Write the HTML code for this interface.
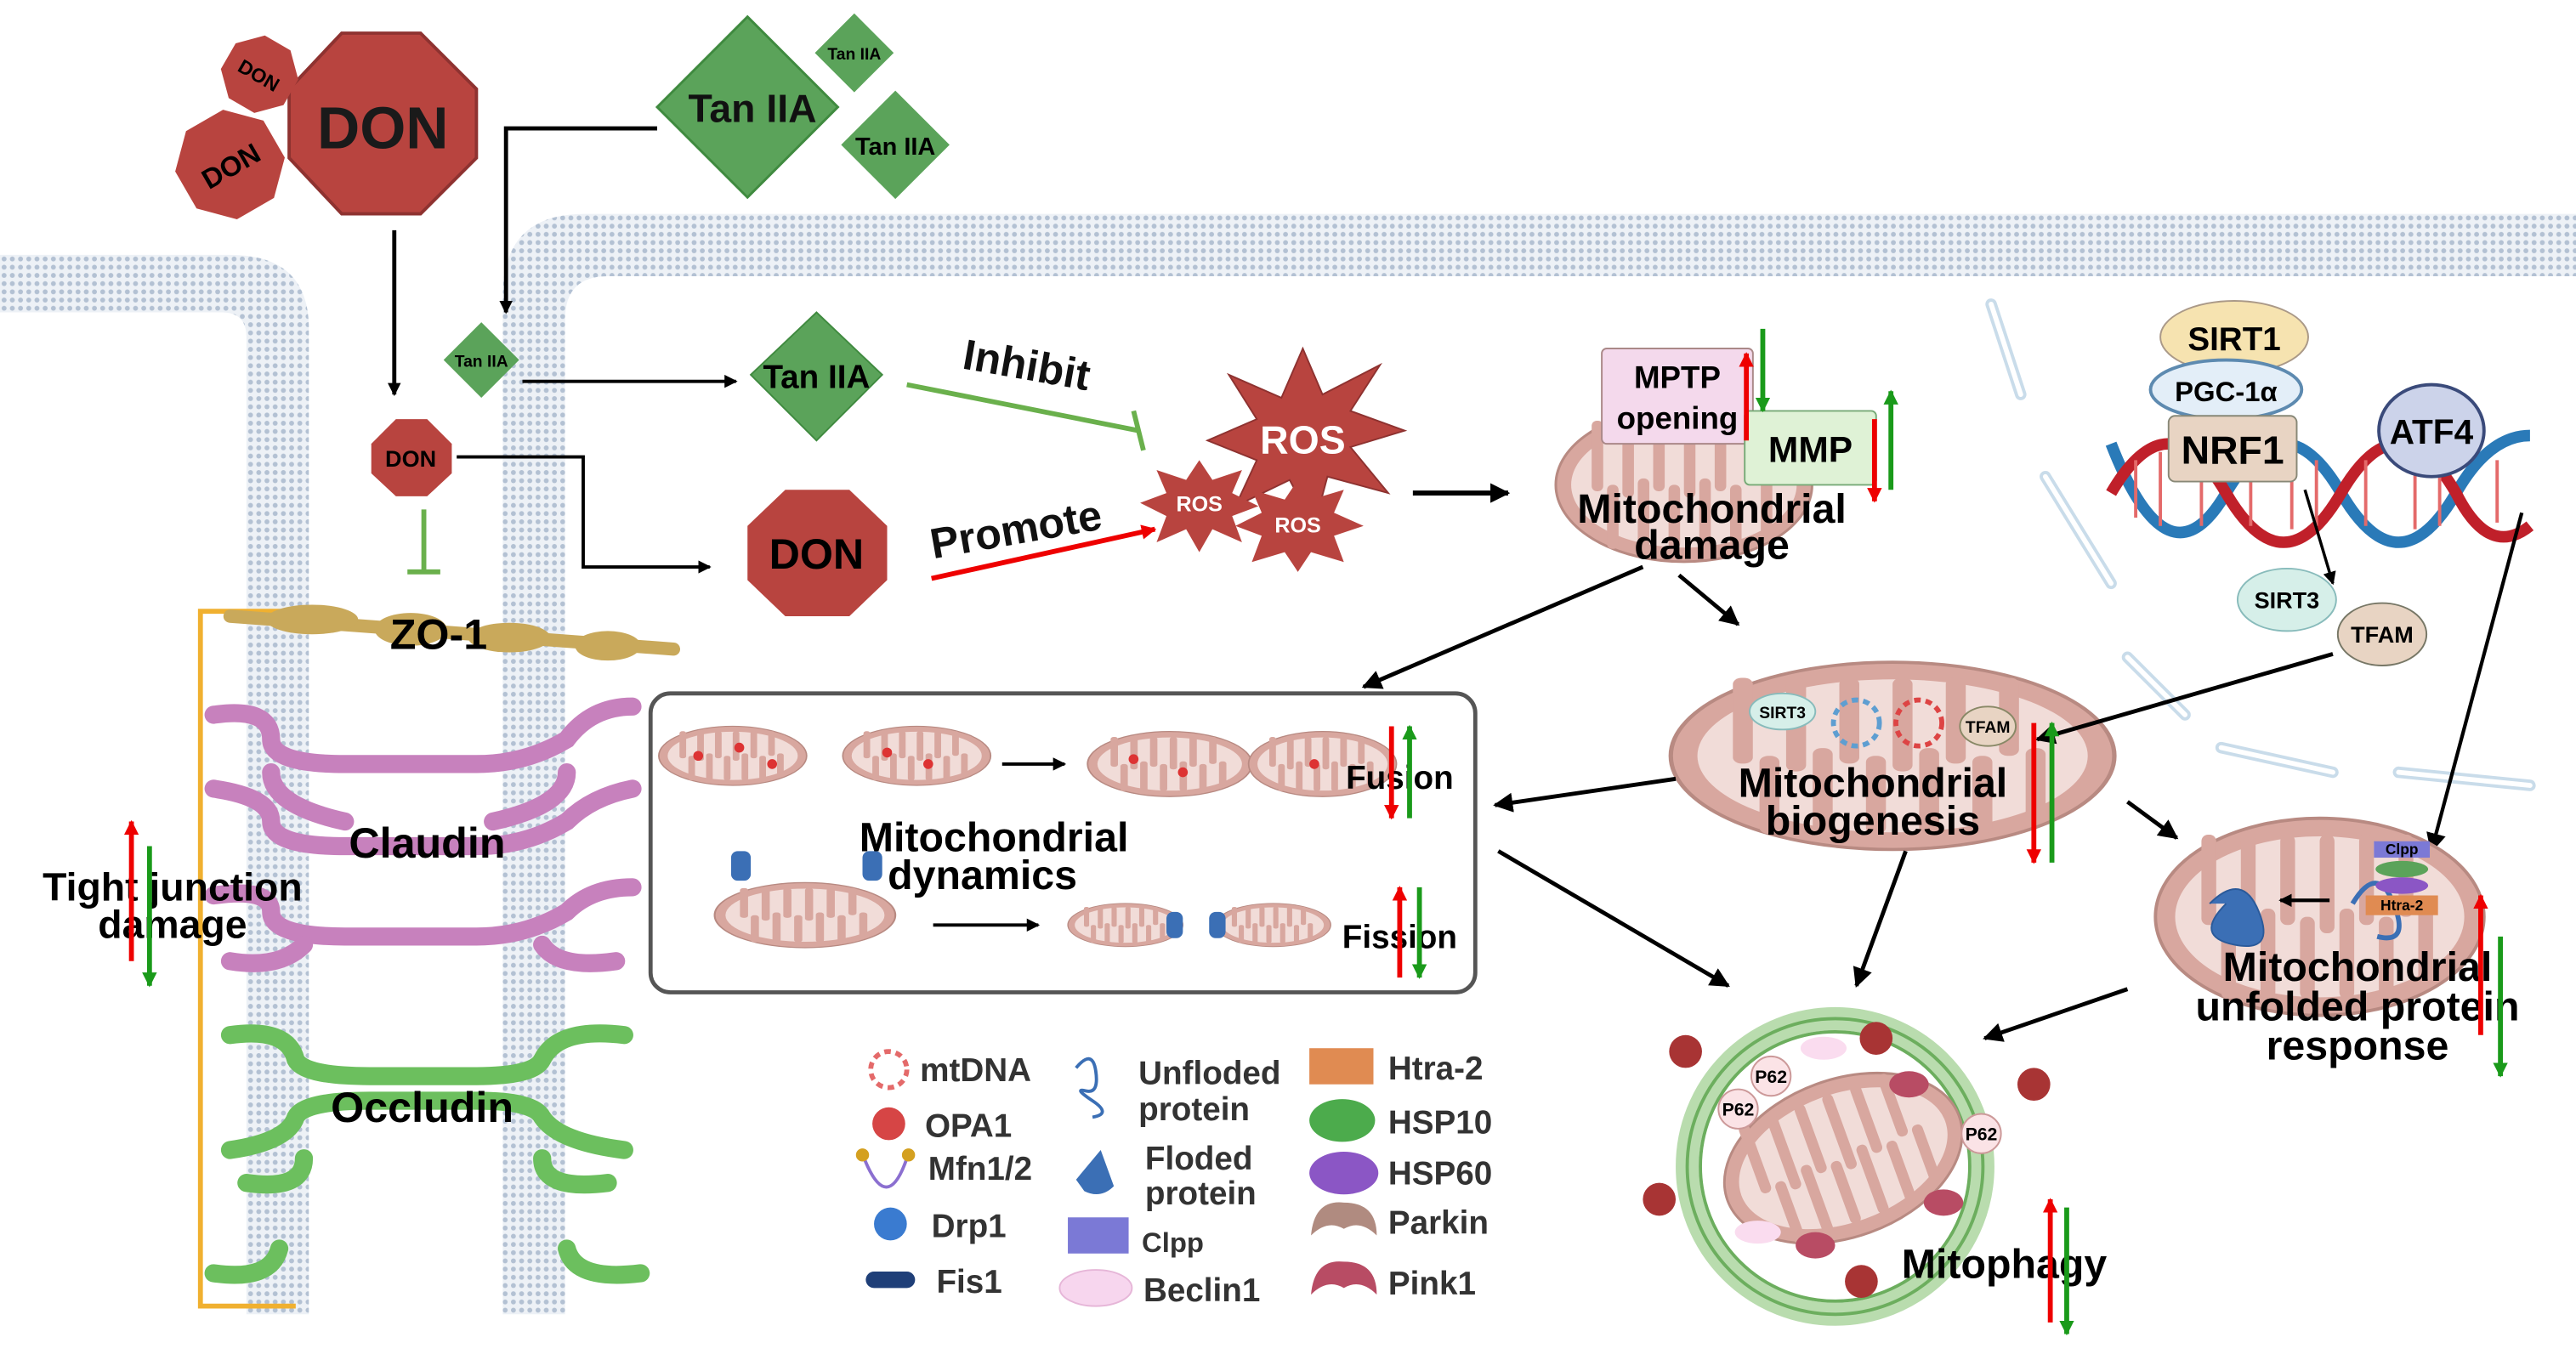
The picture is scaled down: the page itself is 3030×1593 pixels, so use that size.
<!DOCTYPE html>
<html><head><meta charset="utf-8"><style>html,body{margin:0;padding:0;background:#fff}svg{display:block}
text{font-family:"Liberation Sans",sans-serif;font-weight:bold}</style></head><body>
<svg width="3030" height="1593" viewBox="0 0 1568 824" xmlns="http://www.w3.org/2000/svg">
<defs>
<pattern id="mem" width="5" height="5" patternUnits="userSpaceOnUse"><rect width="5" height="5" fill="#edf1f6"/><circle cx="2.5" cy="2.5" r="1.5" fill="#b3c1d3"/></pattern>
<marker id="ar" markerWidth="8" markerHeight="8" refX="7" refY="4" orient="auto" markerUnits="userSpaceOnUse"><path d="M0,0 L8,4 L0,8 z" fill="#000"/></marker>
<marker id="ak" viewBox="0 0 10 10" markerWidth="12" markerHeight="12" refX="9" refY="5" orient="auto" markerUnits="userSpaceOnUse"><path d="M0,0 L10,5 L0,10 z" fill="#000"/></marker>
<marker id="arR" viewBox="0 0 10 10" markerWidth="9" markerHeight="9" refX="9" refY="5" orient="auto" markerUnits="userSpaceOnUse"><path d="M0,0 L10,5 L0,10 z" fill="#e00"/></marker>
<marker id="arG" viewBox="0 0 10 10" markerWidth="9" markerHeight="9" refX="9" refY="5" orient="auto" markerUnits="userSpaceOnUse"><path d="M0,0 L10,5 L0,10 z" fill="#1a9a1a"/></marker>
<g id="mito">
<ellipse cx="0" cy="0" rx="100" ry="60" fill="#d8a79f" stroke="#b88a82" stroke-width="2"/>
<ellipse cx="0" cy="0" rx="88" ry="49" fill="#f1dcd8"/>
<g fill="#d8a79f"><rect x="-72" y="-50" width="9" height="55" rx="4"/><rect x="-48" y="-50" width="9" height="60" rx="4"/><rect x="-24" y="-50" width="9" height="55" rx="4"/><rect x="0" y="-50" width="9" height="60" rx="4"/><rect x="24" y="-50" width="9" height="55" rx="4"/><rect x="48" y="-50" width="9" height="50" rx="4"/>
<rect x="-60" y="0" width="9" height="50" rx="4"/><rect x="-36" y="-5" width="9" height="55" rx="4"/><rect x="-12" y="0" width="9" height="50" rx="4"/><rect x="12" y="-5" width="9" height="55" rx="4"/><rect x="36" y="0" width="9" height="50" rx="4"/><rect x="60" y="-5" width="9" height="45" rx="4"/></g>
</g>
</defs>

<!-- membranes -->
<path d="M0,155 L140,155 Q188,155 188,200 L188,800 L150,800 L150,205 Q150,190 135,190 L0,190 Z" fill="url(#mem)"/>
<path d="M306,800 L306,180 Q306,130 356,130 L1568,130 L1568,168 L370,168 Q344,168 344,194 L344,800 Z" fill="url(#mem)"/>

<!-- nucleus dashed envelope -->
<g fill="none" stroke="#c9dcea" stroke-width="7" stroke-linecap="round">
<path d="M1212,185 L1230,240"/><path d="M1245,290 L1285,355"/><path d="M1295,400 L1330,435"/><path d="M1352,455 L1420,470"/><path d="M1460,470 L1540,478"/>
</g>
<g fill="none" stroke="#fff" stroke-width="3" stroke-linecap="round">
<path d="M1212,185 L1230,240"/><path d="M1245,290 L1285,355"/><path d="M1295,400 L1330,435"/><path d="M1352,455 L1420,470"/><path d="M1460,470 L1540,478"/>
</g>

<!-- DON octagons -->
<polygon points="208,20 256,20 290,54 290,96 256,130 208,130 176,96 176,54" fill="#b8443f" stroke="#8e3230" stroke-width="2"/>
<text x="233" y="90" font-size="36" text-anchor="middle" fill="#1a1a1a">DON</text>
<g transform="translate(158,45) rotate(30)"><polygon points="-9,-22 9,-22 22,-9 22,9 9,22 -9,22 -22,9 -22,-9" fill="#b8443f"/><text x="0" y="5" font-size="12" text-anchor="middle">DON</text></g>
<g transform="translate(140,100) rotate(-30)"><polygon points="-13,-31 13,-31 31,-13 31,13 13,31 -13,31 -31,13 -31,-13" fill="#b8443f"/><text x="0" y="7" font-size="17" text-anchor="middle">DON</text></g>

<!-- Tan IIA diamonds -->
<polygon points="455,10 510,65 455,120 400,65" fill="#5ba35a" stroke="#3f8a3f" stroke-width="1.5"/>
<text x="458" y="74" font-size="24" text-anchor="middle" fill="#111">Tan IIA</text>
<polygon points="520,8 544,32 520,56 496,32" fill="#5ba35a"/><text x="520" y="36" font-size="10" text-anchor="middle">Tan IIA</text>
<polygon points="545,55 578,88 545,121 512,88" fill="#5ba35a"/><text x="545" y="94" font-size="15" text-anchor="middle">Tan IIA</text>

<path d="M240,140 L240,240" stroke="#000" stroke-width="2.5" fill="none" marker-end="url(#ar)"/>
<path d="M400,78 L308,78 L308,190" stroke="#000" stroke-width="2.5" fill="none" marker-end="url(#ar)"/>

<polygon points="293,196 316,219 293,242 270,219" fill="#5ba35a"/><text x="293" y="223" font-size="10" text-anchor="middle">Tan IIA</text>
<polygon points="241,255 260,255 275,270 275,288 260,302 241,302 226,288 226,270" fill="#b8443f"/><text x="250" y="284" font-size="14" text-anchor="middle">DON</text>

<path d="M318,232 L448,232" stroke="#000" stroke-width="2" marker-end="url(#ar)"/>
<polygon points="497,190 537,228 497,268 457,228" fill="#5ba35a" stroke="#3f8a3f"/><text x="497" y="236" font-size="20" text-anchor="middle">Tan IIA</text>
<path d="M278,278 L355,278 L355,345 L432,345" stroke="#000" stroke-width="2" fill="none" marker-end="url(#ar)"/>
<polygon points="478,298 517,298 540,320 540,353 517,375 478,375 455,353 455,320" fill="#b8443f"/><text x="497" y="346" font-size="26" text-anchor="middle">DON</text>

<path d="M552,234 L693,262" stroke="#6ab04c" stroke-width="3"/><path d="M690,250 L696,274" stroke="#6ab04c" stroke-width="3"/>
<text font-size="26" fill="#111" transform="translate(585,224) rotate(10)">Inhibit</text>
<path d="M567,352 L703,322" stroke="#e00" stroke-width="3" marker-end="url(#arR)"/>
<text font-size="26" fill="#111" transform="translate(568,340) rotate(-10)">Promote</text>

<!-- ROS -->
<polygon points="793,212 805,240 840,222 822,250 855,262 822,272 845,300 808,290 800,320 785,292 752,308 765,280 735,268 765,255 748,228 780,242" fill="#b8443f" stroke="#8e3230"/>
<text x="793" y="276" font-size="24" fill="#fff" text-anchor="middle">ROS</text>
<polygon points="730,280 738,292 756,286 750,300 766,308 750,314 756,330 738,322 730,336 722,322 704,330 710,314 694,306 710,300 704,286 722,292" fill="#b8443f"/><text x="730" y="311" font-size="13" fill="#fff" text-anchor="middle">ROS</text>
<polygon points="790,292 798,304 818,298 812,312 830,320 812,326 818,342 798,336 790,348 782,336 762,342 768,326 752,320 768,312 762,298 782,304" fill="#b8443f"/><text x="790" y="324" font-size="13" fill="#fff" text-anchor="middle">ROS</text>
<path d="M860,300 L918,300" stroke="#000" stroke-width="3" marker-end="url(#ak)"/>

<!-- Mitochondrial damage -->
<use href="#mito" transform="translate(1025,295) scale(0.78,0.78)"/>
<rect x="975" y="212" width="92" height="58" fill="#f4d9ec" stroke="#a88" rx="3"/>
<text x="1021" y="236" font-size="19" text-anchor="middle">MPTP</text><text x="1021" y="261" font-size="19" text-anchor="middle">opening</text>
<rect x="1062" y="250" width="80" height="45" fill="#dff2d6" stroke="#7a7" rx="3"/>
<text x="1102" y="281" font-size="22" text-anchor="middle">MMP</text>
<text x="1042" y="318" font-size="25" text-anchor="middle">Mitochondrial</text><text x="1042" y="340" font-size="25" text-anchor="middle">damage</text>

<!-- Tight junction left -->
<path d="M180,372 L122,372 L122,795 L180,795" stroke="#f0b030" stroke-width="3" fill="none"/>
<path d="M140,375 L410,395" stroke="#c9a95b" stroke-width="8" stroke-linecap="round"/>
<g fill="#c9a95b"><ellipse cx="190" cy="377" rx="28" ry="9"/><ellipse cx="250" cy="383" rx="22" ry="10"/><ellipse cx="310" cy="388" rx="25" ry="9"/><ellipse cx="370" cy="393" rx="20" ry="9"/></g>
<text x="267" y="395" font-size="26" text-anchor="middle">ZO-1</text>
<g fill="none" stroke="#c781bd" stroke-width="11" stroke-linecap="round">
<path d="M130,435 Q165,430 165,450 Q165,465 210,465 L290,465 Q320,465 345,450 Q360,430 385,430"/>
<path d="M130,480 Q165,485 165,500 Q165,515 210,515 L290,515 Q320,515 345,500 Q360,485 385,480"/>
<path d="M165,470 Q165,490 210,500 M345,470 Q345,490 300,500"/>
<path d="M130,545 Q165,540 165,555 Q165,570 210,570 L290,570 Q320,570 345,555 Q360,540 385,540"/>
<path d="M140,585 Q170,590 185,575 M375,585 Q340,590 330,575"/>
</g>
<text x="260" y="522" font-size="26" text-anchor="middle">Claudin</text>
<g fill="none" stroke="#6cbf5e" stroke-width="11" stroke-linecap="round">
<path d="M140,630 Q175,625 180,645 Q185,655 225,655 L290,655 Q325,655 330,645 Q340,625 380,630"/>
<path d="M140,700 Q175,695 180,680 Q185,670 225,670 L290,670 Q325,670 330,680 Q340,695 380,700"/>
<path d="M150,720 Q185,725 185,705 M370,720 Q330,725 330,705"/>
<path d="M130,775 Q165,780 170,760 M390,775 Q350,780 345,760"/>
</g>
<text x="257" y="683" font-size="26" text-anchor="middle">Occludin</text>
<path d="M258,310 L258,348 M248,348 L268,348" stroke="#6ab04c" stroke-width="3"/>
<text x="105" y="548" font-size="24" text-anchor="middle">Tight junction</text><text x="105" y="571" font-size="24" text-anchor="middle">damage</text>

<!-- Dynamics box -->
<rect x="396" y="422" width="502" height="182" rx="12" fill="none" stroke="#555" stroke-width="2.5"/>
<use href="#mito" transform="translate(446,460) scale(0.45,0.3)"/>
<use href="#mito" transform="translate(558,460) scale(0.45,0.3)"/>
<use href="#mito" transform="translate(712,465) scale(0.5,0.33)"/>
<use href="#mito" transform="translate(805,465) scale(0.45,0.33)"/>
<g fill="#d33"><circle cx="425" cy="460" r="3"/><circle cx="450" cy="455" r="3"/><circle cx="470" cy="465" r="3"/><circle cx="540" cy="458" r="3"/><circle cx="565" cy="465" r="3"/><circle cx="690" cy="462" r="3"/><circle cx="720" cy="470" r="3"/><circle cx="800" cy="465" r="3"/></g>
<path d="M610,465 L648,465" stroke="#000" stroke-width="2" marker-end="url(#ar)"/>
<use href="#mito" transform="translate(490,557) scale(0.55,0.33)"/>
<use href="#mito" transform="translate(685,563) scale(0.35,0.22)"/>
<use href="#mito" transform="translate(775,563) scale(0.35,0.22)"/>
<g fill="#3b6fb5"><rect x="445" y="518" width="12" height="18" rx="4"/><rect x="525" y="518" width="12" height="18" rx="4"/><rect x="710" y="555" width="10" height="16" rx="4"/><rect x="736" y="555" width="10" height="16" rx="4"/></g>
<path d="M568,563 L632,563" stroke="#000" stroke-width="2" marker-end="url(#ar)"/>
<text x="605" y="518" font-size="25" text-anchor="middle">Mitochondrial</text><text x="598" y="541" font-size="25" text-anchor="middle">dynamics</text>
<text x="852" y="480" font-size="20" text-anchor="middle">Fusion</text>
<text x="852" y="577" font-size="20" text-anchor="middle">Fission</text>

<!-- arrows from damage -->
<path d="M1000,345 L830,418" stroke="#000" stroke-width="2.5" marker-end="url(#ak)"/>
<path d="M1022,350 L1058,380" stroke="#000" stroke-width="2.5" marker-end="url(#ak)"/>

<!-- biogenesis -->
<use href="#mito" transform="translate(1152,460) scale(1.35,0.95)"/>
<ellipse cx="1085" cy="433" rx="20" ry="11" fill="#d6efe9" stroke="#8bb"/><text x="1085" y="437" font-size="10" text-anchor="middle">SIRT3</text>
<circle cx="1130" cy="440" r="14" fill="none" stroke="#5e9ed1" stroke-width="3" stroke-dasharray="4 3"/><circle cx="1168" cy="440" r="14" fill="none" stroke="#d44" stroke-width="3" stroke-dasharray="4 3"/>
<ellipse cx="1210" cy="442" rx="17" ry="12" fill="#e8d4c3" stroke="#886"/><text x="1210" y="446" font-size="10" text-anchor="middle">TFAM</text>
<text x="1140" y="485" font-size="25" text-anchor="middle">Mitochondrial</text><text x="1140" y="508" font-size="25" text-anchor="middle">biogenesis</text>
<path d="M1020,474 L910,490" stroke="#000" stroke-width="2.5" marker-end="url(#ak)"/>
<path d="M912,518 L1052,600" stroke="#000" stroke-width="2.5" marker-end="url(#ak)"/>
<path d="M1160,518 L1130,600" stroke="#000" stroke-width="2.5" marker-end="url(#ak)"/>
<path d="M1295,488 L1325,510" stroke="#000" stroke-width="2.5" marker-end="url(#ak)"/>

<!-- DNA -->
<g fill="none" stroke-width="7">
<path d="M1285,270 Q1320,360 1355,300 Q1390,240 1425,300 Q1460,360 1495,300 Q1515,265 1540,265" stroke="#2a7ab8"/>
<path d="M1285,300 Q1320,240 1355,300 Q1390,360 1425,300 Q1460,240 1495,300 Q1515,340 1540,320" stroke="#c0202a"/>
</g>
<g stroke="#e46a6a" stroke-width="2"><path d="M1300,280 V315 M1315,275 V320 M1340,280 V320 M1370,280 V320 M1395,278 V322 M1410,280 V320 M1440,280 V320 M1470,278 V322 M1485,280 V320 M1520,280 V318"/></g>
<ellipse cx="1360" cy="205" rx="45" ry="22" fill="#f6e3b0" stroke="#a98"/><text x="1360" y="213" font-size="20" text-anchor="middle">SIRT1</text>
<ellipse cx="1355" cy="237" rx="46" ry="18" fill="#e3eef8" stroke="#5d8ab0" stroke-width="2"/><text x="1355" y="244" font-size="17" text-anchor="middle" font-weight="normal">PGC-1α</text>
<rect x="1320" y="253" width="78" height="40" rx="4" fill="#e8d4c3" stroke="#887"/><text x="1359" y="282" font-size="24" text-anchor="middle">NRF1</text>
<ellipse cx="1480" cy="262" rx="32" ry="28" fill="#ccd3ea" stroke="#3a4a7a" stroke-width="2"/><text x="1480" y="270" font-size="21" text-anchor="middle">ATF4</text>
<path d="M1403,298 L1420,355" stroke="#000" stroke-width="1.8" marker-end="url(#ar)"/>
<ellipse cx="1392" cy="365" rx="30" ry="19" fill="#d6efe9" stroke="#8bb"/><text x="1392" y="370" font-size="14" text-anchor="middle">SIRT3</text>
<ellipse cx="1450" cy="386" rx="27" ry="19" fill="#e8d4c3" stroke="#776"/><text x="1450" y="391" font-size="14" text-anchor="middle">TFAM</text>
<path d="M1420,398 L1240,450" stroke="#000" stroke-width="2.5" marker-end="url(#ak)"/>
<path d="M1535,312 L1480,518" stroke="#000" stroke-width="2.2" marker-end="url(#ak)"/>

<!-- UPR -->
<use href="#mito" transform="translate(1412,558) scale(1.0,1.0)"/>
<path d="M1345,550 q20,-20 30,5 q10,25 -15,20 q-25,-5 -5,-25" fill="#3b6fb5" stroke="#2a5a9a"/>
<path d="M1432,550 q15,-25 25,0 q10,25 -10,20" fill="none" stroke="#3b6fb5" stroke-width="3"/>
<path d="M1418,548 L1388,548" stroke="#000" stroke-width="2.2" marker-end="url(#ar)"/>
<rect x="1445" y="512" width="34" height="10" fill="#7b79d6"/><text x="1462" y="520" font-size="9" text-anchor="middle">Clpp</text>
<ellipse cx="1462" cy="529" rx="16" ry="5" fill="#5ba35a"/><ellipse cx="1462" cy="539" rx="16" ry="5" fill="#8b56c5"/>
<rect x="1440" y="545" width="44" height="12" fill="#e08b52"/><text x="1462" y="554" font-size="9" text-anchor="middle">Htra-2</text>
<text x="1435" y="597" font-size="25" text-anchor="middle">Mitochondrial</text><text x="1435" y="621" font-size="25" text-anchor="middle">unfolded protein</text><text x="1435" y="645" font-size="25" text-anchor="middle">response</text>
<path d="M1295,602 L1208,632" stroke="#000" stroke-width="2.5" marker-end="url(#ak)"/>

<!-- Mitophagy -->
<circle cx="1117" cy="710" r="90" fill="none" stroke="#b9dcae" stroke-width="14"/>
<circle cx="1117" cy="710" r="90" fill="none" stroke="#6cae5e" stroke-width="2"/>
<circle cx="1117" cy="710" r="82" fill="#fff" stroke="#6cae5e" stroke-width="2"/>
<use href="#mito" transform="translate(1122,705) rotate(-20) scale(0.75,0.8)"/>
<g fill="#fbe3e6" stroke="#c99"><circle cx="1078" cy="655" r="12"/><circle cx="1058" cy="675" r="12"/><circle cx="1206" cy="690" r="12"/></g>
<g font-size="11" text-anchor="middle"><text x="1078" y="659">P62</text><text x="1058" y="679">P62</text><text x="1206" y="694">P62</text></g>
<g fill="#a83434"><circle cx="1026" cy="640" r="10"/><circle cx="1142" cy="632" r="10"/><circle cx="1238" cy="660" r="10"/><circle cx="1010" cy="730" r="10"/><circle cx="1133" cy="780" r="10"/></g>
<g fill="#fadcef"><ellipse cx="1110" cy="638" rx="14" ry="7"/><ellipse cx="1070" cy="750" rx="14" ry="7"/></g>
<g fill="#b84c64"><ellipse cx="1162" cy="660" rx="12" ry="8"/><ellipse cx="1183" cy="732" rx="12" ry="8"/><ellipse cx="1105" cy="758" rx="12" ry="8"/></g>
<text x="1220" y="778" font-size="25" text-anchor="middle">Mitophagy</text>

<!-- up/down arrows -->
<g stroke-width="3">
<path d="M1063,268 L1063,215" stroke="#e00" marker-end="url(#arR)"/><path d="M1073,200 L1073,250" stroke="#1a9a1a" marker-end="url(#arG)"/>
<path d="M1151,298 L1151,238" stroke="#1a9a1a" marker-end="url(#arG)"/><path d="M1141,255 L1141,305" stroke="#e00" marker-end="url(#arR)"/>
<path d="M847,442 L847,498" stroke="#e00" marker-end="url(#arR)"/><path d="M858,498 L858,442" stroke="#1a9a1a" marker-end="url(#arG)"/>
<path d="M852,595 L852,540" stroke="#e00" marker-end="url(#arR)"/><path d="M864,540 L864,595" stroke="#1a9a1a" marker-end="url(#arG)"/>
<path d="M1238,440 L1238,525" stroke="#e00" marker-end="url(#arR)"/><path d="M1249,525 L1249,440" stroke="#1a9a1a" marker-end="url(#arG)"/>
<path d="M1510,630 L1510,545" stroke="#e00" marker-end="url(#arR)"/><path d="M1522,570 L1522,655" stroke="#1a9a1a" marker-end="url(#arG)"/>
<path d="M1248,805 L1248,730" stroke="#e00" marker-end="url(#arR)"/><path d="M1258,735 L1258,812" stroke="#1a9a1a" marker-end="url(#arG)"/>
<path d="M80,585 L80,500" stroke="#e00" marker-end="url(#arR)"/><path d="M91,515 L91,600" stroke="#1a9a1a" marker-end="url(#arG)"/>
</g>

<!-- legend -->
<g font-size="20" fill="#333">
<circle cx="541" cy="651" r="11" fill="none" stroke="#e46a6a" stroke-width="3" stroke-dasharray="4 3"/><text x="560" y="658" fill="#333">mtDNA</text>
<circle cx="541" cy="684" r="10" fill="#d64545"/><text x="563" y="692" fill="#333">OPA1</text>
<path d="M526,705 Q540,740 552,705" fill="none" stroke="#8b6fd0" stroke-width="2"/><circle cx="525" cy="703" r="4" fill="#d4a020"/><circle cx="553" cy="703" r="4" fill="#d4a020"/><text x="565" y="718" fill="#333">Mfn1/2</text>
<circle cx="542" cy="745" r="10" fill="#3a7bd0"/><text x="567" y="753" fill="#333">Drp1</text>
<rect x="527" y="774" width="30" height="10" rx="5" fill="#1f3f78"/><text x="570" y="787" fill="#333">Fis1</text>
<path d="M655,650 q10,-12 12,2 q2,14 -6,12 q-8,-2 4,6 q12,8 0,10" fill="none" stroke="#3b6fb5" stroke-width="2"/>
<text x="693" y="660" fill="#333">Unfloded</text><text x="693" y="682" fill="#333">protein</text>
<path d="M655,718 L670,700 L678,722 Q670,730 660,725 Z" fill="#3b6fb5"/>
<text x="697" y="712" fill="#333">Floded</text><text x="697" y="733" fill="#333">protein</text>
<rect x="650" y="741" width="37" height="22" fill="#7b79d6"/><text x="695" y="762" font-size="17" fill="#333">Clpp</text>
<ellipse cx="667" cy="784" rx="22" ry="11" fill="#f7d6ee" stroke="#e6b6d8"/><text x="696" y="792" fill="#333">Beclin1</text>
<rect x="797" y="638" width="39" height="22" fill="#e08b52"/><text x="845" y="657" fill="#333">Htra-2</text>
<ellipse cx="817" cy="682" rx="20" ry="13" fill="#4cab4c"/><text x="845" y="690" fill="#333">HSP10</text>
<ellipse cx="818" cy="714" rx="21" ry="13" fill="#8b56c5"/><text x="845" y="721" fill="#333">HSP60</text>
<path d="M798,752 Q800,730 818,732 Q838,732 838,752 Q828,742 818,748 Q808,742 798,752Z" fill="#b08b80"/><text x="845" y="751" fill="#333">Parkin</text>
<path d="M798,788 Q800,766 818,768 Q838,768 838,788 Q828,778 818,784 Q808,778 798,788Z" fill="#b84c64"/><text x="845" y="788" fill="#333">Pink1</text>
</g>
</svg>
</body></html>
